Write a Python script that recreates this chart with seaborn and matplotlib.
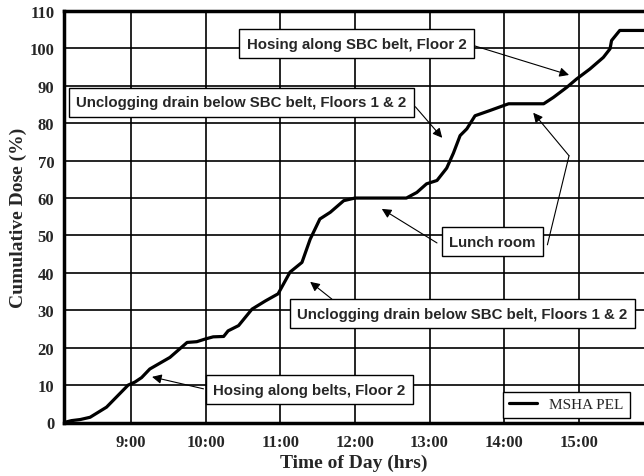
import matplotlib
matplotlib.use("Agg")
import matplotlib.pyplot as plt
import seaborn as sns
import pandas as pd

# cumulative dose trace, time of day in decimal hours
hours = [8.10, 8.20, 8.32, 8.45, 8.67, 8.96, 9.05, 9.14, 9.25, 9.52, 9.75, 9.88,
         9.99, 10.10, 10.24, 10.30, 10.44, 10.53, 10.62, 10.80, 10.97, 11.13,
         11.29, 11.40, 11.53, 11.67, 11.85, 12.00, 12.69, 12.83, 12.96, 13.10,
         13.23, 13.32, 13.41, 13.50, 13.61, 13.81, 13.99, 14.06, 14.53, 14.66,
         14.84, 14.97, 15.15, 15.33, 15.42, 15.44, 15.55, 15.90]
dose = [0.0, 0.5, 0.8, 1.4, 4.1, 10.0, 10.8, 12.0, 14.3, 17.4, 21.4, 21.6,
        22.3, 22.9, 23.0, 24.5, 25.9, 28.1, 30.3, 32.5, 34.4, 40.2,
        42.8, 49.0, 54.4, 56.2, 59.3, 60.0, 60.0, 61.5, 63.8, 64.7,
        68.0, 72.0, 76.7, 78.5, 82.0, 83.4, 84.7, 85.2, 85.2, 86.9,
        89.6, 91.8, 94.5, 97.6, 99.9, 102.1, 104.8, 104.8]

x_ticks = [9, 10, 11, 12, 13, 14, 15]
x_tick_labels = ["9:00", "10:00", "11:00", "12:00", "13:00", "14:00", "15:00"]
y_ticks = list(range(0, 111, 10))

# annotation labels: text, box centre, arrow start, arrow tip
notes = [
    ("Hosing along SBC belt, Floor 2", (12.02, 101.3), (13.60, 100.7), (14.87, 92.9)),
    ("Unclogging drain below SBC belt, Floors 1 & 2", (10.48, 85.6), (12.81, 84.4), (13.17, 76.1)),
    ("Lunch room", (13.84, 48.3), (13.10, 48.0), (12.36, 57.1)),
    ("Unclogging drain below SBC belt, Floors 1 & 2", (13.44, 29.1), (11.69, 33.0), (11.40, 37.6)),
    ("Hosing along belts, Floor 2", (11.39, 8.7), (9.97, 9.0), (9.28, 12.2)),
]

df = pd.DataFrame({"hour": hours, "dose": dose})

sns.set_style("white")
serif = ["Liberation Serif", "DejaVu Serif"]
sans = ["Liberation Sans", "DejaVu Sans"]

fig = plt.figure(figsize=(6.44, 4.77), dpi=100)
ax = fig.add_axes([64 / 644, 53.5 / 477, 1 - 64 / 644, 411.5 / 477])

sns.lineplot(data=df, x="hour", y="dose", ax=ax, color="black", lw=2.3,
             label="MSHA PEL")

ax.set_xlim(8.1, 15.875)
ax.set_ylim(0, 110)
ax.set_xticks(x_ticks)
ax.set_xticklabels(x_tick_labels)
ax.set_yticks(y_ticks)
ax.grid(True, color="black", lw=1.2)
ax.set_axisbelow(True)

for s in ["left", "bottom", "top"]:
    ax.spines[s].set_linewidth(2.5)
    ax.spines[s].set_color("black")
ax.spines["right"].set_visible(False)

ax.tick_params(axis="y", length=3, width=1.5, pad=4)
ax.tick_params(axis="x", length=0, pad=8)
for lab in ax.get_xticklabels() + ax.get_yticklabels():
    lab.set_family(serif)
    lab.set_fontweight("bold")
    lab.set_fontsize(12)

ax.set_xlabel("Time of Day (hrs)", family=serif, fontweight="bold",
              fontsize=14, labelpad=3)
ax.set_ylabel("Cumulative Dose (%)", family=serif, fontweight="bold",
              fontsize=14, labelpad=2)

box = dict(boxstyle="square,pad=0.5", fc="white", ec="black", lw=1.0)
arrow = dict(arrowstyle="-|>", color="black", lw=0.8, mutation_scale=14,
             shrinkA=0, shrinkB=0)

for label, centre, start, tip in notes:
    ax.annotate("", xy=tip, xytext=start, arrowprops=arrow)
    ax.text(centre[0], centre[1], label, family=sans, fontweight="bold",
            fontsize=10.8, ha="center", va="center", bbox=box, zorder=5)

# second lunch-room pointer, bent leader to the afternoon plateau
ax.annotate("", xy=(14.87, 71.3), xytext=(14.58, 47.5),
            arrowprops=dict(arrowstyle="-", color="black", lw=0.8,
                            shrinkA=0, shrinkB=0))
ax.annotate("", xy=(14.39, 82.8), xytext=(14.87, 71.3), arrowprops=arrow)

leg = ax.legend(loc="lower right", bbox_to_anchor=(0.975, 0.012),
                borderaxespad=0, fancybox=False, framealpha=1,
                handlelength=1.8, prop={"family": serif, "size": 11})
leg.get_frame().set_edgecolor("black")
leg.get_frame().set_linewidth(1.0)

fig.savefig("out.png", dpi=100)
